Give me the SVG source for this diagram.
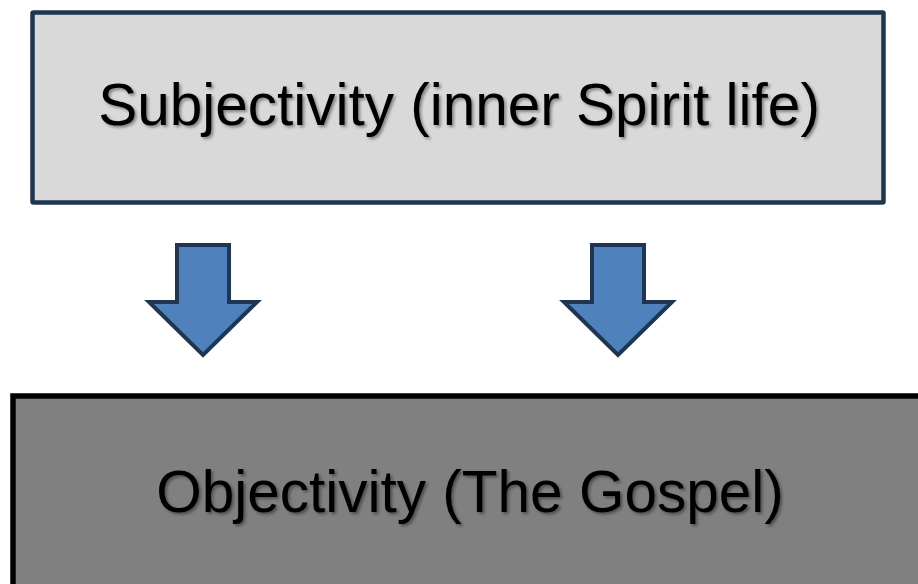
<svg xmlns="http://www.w3.org/2000/svg" width="918" height="584" viewBox="0 0 918 584">
<style>
.lbl{font-family:"Liberation Sans",Arial,sans-serif;font-size:58.5px;fill:#000;text-anchor:middle;filter:url(#sh)}
.arrow{fill:#4f81bd;stroke:#1f3652;stroke-width:4;stroke-linejoin:miter}
</style>
<defs>
<filter id="sh" x="-10%" y="-30%" width="120%" height="160%">
<feDropShadow dx="2" dy="2" stdDeviation="1.5" flood-color="#000" flood-opacity="0.4"/>
</filter>
</defs>
<rect width="918" height="584" fill="#fff"/>
<g id="subjectivity">
<rect x="32.5" y="12.5" width="851" height="190" fill="#d9d9d9" stroke="#1f3652" stroke-width="4.5" rx="1"/>
<text class="lbl" x="459" y="125">Subjectivity (inner Spirit life)</text>
</g>
<g id="objectivity">
<rect x="13" y="396" width="920" height="200" fill="#808080" stroke="#000" stroke-width="5.5"/>
<text class="lbl" x="470" y="512">Objectivity (The Gospel)</text>
</g>
<g id="connectors">
<path class="arrow" d="M177,245 H229 V302 H257 L203,355 L149,302 H177 Z"/>
<path class="arrow" d="M592,245 H644 V302 H672 L618,355 L564,302 H592 Z"/>
</g>
</svg>
